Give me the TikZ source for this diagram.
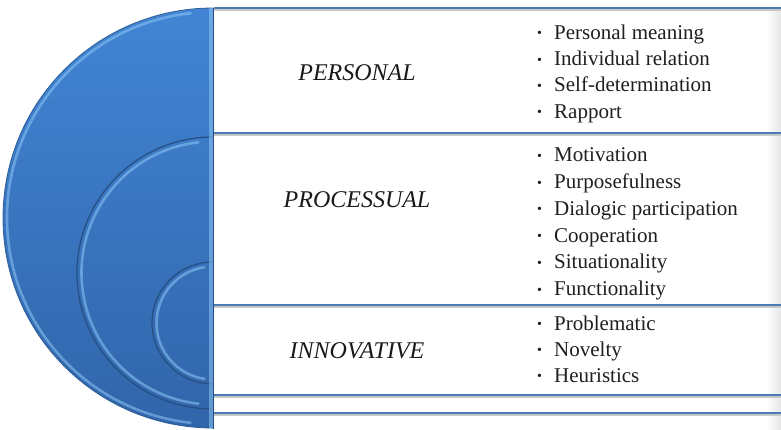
\documentclass[tikz,border=0pt]{standalone}
\usepackage{fontspec}
\setmainfont{Liberation Serif}
\definecolor{discTop}{HTML}{4185D4}
\definecolor{discBot}{HTML}{3165AA}
\definecolor{discEdge}{HTML}{264E80}
\definecolor{discHi}{HTML}{8DC6F6}
\definecolor{boxblue}{HTML}{4C7AB3}
\newcommand\bul{\makebox[17pt][l]{\raisebox{1.5pt}{\fontsize{14}{14}\selectfont\textbullet}}}
\begin{document}
\begin{tikzpicture}[x=1pt,y=-1pt,
  rowline/.style={draw=boxblue, line width=1.8pt},
  rowshadow/.style={draw=black!22, line width=1.6pt},
  lbl/.style={font=\fontsize{24}{28}\selectfont\itshape, text=black!90, inner sep=0pt, anchor=base},
  item/.style={font=\fontsize{21}{26}\selectfont, text=black!88, inner sep=0pt, anchor=base west},
  discline/.style={draw=discEdge, line width=1.2pt},
  hiline/.style={draw=discHi, line width=2.6pt, opacity=0.55}
]
\useasboundingbox (0,0) rectangle (781,429);
\clip (0,0) rectangle (781,429);
\fill[white] (0,0) rectangle (781,429);

% row boxes
\foreach \a/\b in {8/133,133/305,305/395,395/413,413/445}{
  \shade[left color=white, right color=black!10] (766,\a) rectangle (781,\b);
}
\foreach \y in {8,133,305,395,413}{
  \draw[rowshadow] (214,\y+2.2) -- (790,\y+2.2);
  \draw[rowline] (214,\y) -- (790,\y);
}

% centres of the half discs
\coordinate (c1) at (213,218);
\coordinate (c2) at (213,273);
\coordinate (c3) at (213,323);

% outer half disc
\shade[top color=discTop, bottom color=discBot] (213,8) arc[start angle=90,end angle=270,radius=210pt] -- cycle;
\draw[draw=discEdge!70!discTop, line width=0.8pt] (213,8) arc[start angle=90,end angle=270,radius=210pt];
\draw[hiline] (c1) ++(96:206pt) arc[start angle=96,end angle=264,radius=206pt];

% middle half disc
\shade[top color=discBot!31!discTop, bottom color=discBot!96!discTop] (213,137) arc[start angle=90,end angle=270,radius=136pt] -- cycle;
\draw[discline] (213,137) arc[start angle=90,end angle=270,radius=136pt];
\draw[hiline] (c2) ++(96:131.5pt) arc[start angle=96,end angle=264,radius=131.5pt];

% inner half disc
\shade[top color=discBot!61!discTop, bottom color=discBot!91!discTop] (213,262) arc[start angle=90,end angle=270,radius=61pt] -- cycle;
\draw[discline] (213,262) arc[start angle=90,end angle=270,radius=61pt];
\draw[hiline] (c3) ++(98:56.5pt) arc[start angle=98,end angle=262,radius=56.5pt];

% right bevel of the discs
\fill[discHi, opacity=0.55] (208.5,8) rectangle (213,429);
\draw[discEdge, line width=0.8pt] (213.6,8) -- (213.6,429);

% labels
\node[lbl] (personal) at (357,80) {PERSONAL};
\node[lbl] (processual) at (357,207) {PROCESSUAL};
\node[lbl] (innovative) at (357,358) {INNOVATIVE};

% personal items
\node[item] (pe1) at (537,39.3) {\bul Personal meaning};
\node[item] (pe2) at (537,65.6) {\bul Individual relation};
\node[item] (pe3) at (537,91.9) {\bul Self-determination};
\node[item] (pe4) at (537,118.2) {\bul Rapport};

% processual items
\node[item] (pr1) at (537,161.7) {\bul Motivation};
\node[item] (pr2) at (537,188.5) {\bul Purposefulness};
\node[item] (pr3) at (537,215.3) {\bul Dialogic participation};
\node[item] (pr4) at (537,242.1) {\bul Cooperation};
\node[item] (pr5) at (537,268.9) {\bul Situationality};
\node[item] (pr6) at (537,295.7) {\bul Functionality};

% innovative items
\node[item] (in1) at (537,330) {\bul Problematic};
\node[item] (in2) at (537,356) {\bul Novelty};
\node[item] (in3) at (537,382) {\bul Heuristics};
\end{tikzpicture}
\end{document}
